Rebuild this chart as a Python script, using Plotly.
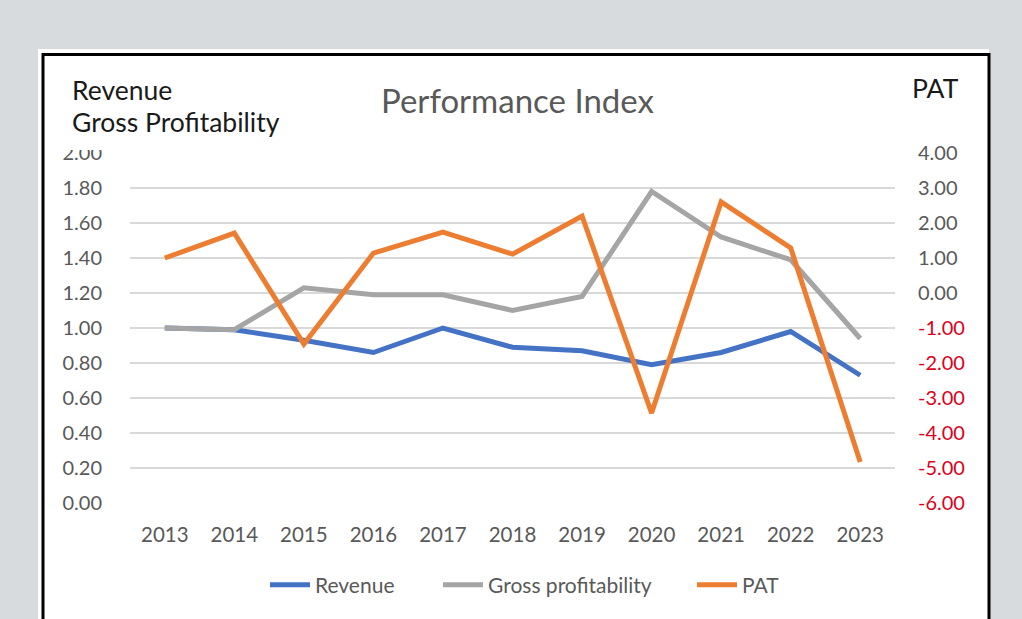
import plotly.graph_objects as go

years = ["2013", "2014", "2015", "2016", "2017", "2018", "2019", "2020", "2021", "2022", "2023"]
revenue = [1.00, 0.99, 0.93, 0.86, 1.00, 0.89, 0.87, 0.79, 0.86, 0.98, 0.73]
gross_profitability = [1.00, 0.99, 1.23, 1.19, 1.19, 1.10, 1.18, 1.78, 1.52, 1.39, 0.94]
pat = [1.00, 1.71, -1.46, 1.14, 1.74, 1.11, 2.20, -3.43, 2.60, 1.29, -4.83]

left_ticks = [0.0, 0.2, 0.4, 0.6, 0.8, 1.0, 1.2, 1.4, 1.6, 1.8, 2.0]
right_ticks = [-6, -5, -4, -3, -2, -1, 0, 1, 2, 3, 4]

W, H = 1022, 619
L, R, T, B = 130, 895, 153, 503

def px(x):
    return (x - L) / (R - L)

def py(y):
    return (B - y) / (B - T)

FONT = "Lato"
GREY_TXT = "#595959"
DARK_TXT = "#1A1A1A"
RED = "#E0001B"

right_text = []
for v in right_ticks:
    s = f"{v:.2f}"
    if v < 0:
        s = f"<span style='fill:{RED}'>{s}</span>"
    right_text.append(s)

fig = go.Figure()
fig.add_trace(go.Scatter(x=years, y=revenue, name="Revenue", mode="lines",
                         line=dict(color="#4472C4", width=5), yaxis="y", legend="legend"))
fig.add_trace(go.Scatter(x=years, y=gross_profitability, name="Gross profitability",
                         mode="lines", line=dict(color="#A5A5A5", width=5), yaxis="y",
                         legend="legend2"))
fig.add_trace(go.Scatter(x=years, y=pat, name="PAT", mode="lines",
                         line=dict(color="#ED7D31", width=5), yaxis="y2", legend="legend3"))

def leg(x_px):
    return dict(orientation="h", x=px(x_px), xanchor="left", y=py(585), yanchor="middle",
                font=dict(size=21, color=GREY_TXT), bgcolor="rgba(0,0,0,0)", itemwidth=40)

fig.update_layout(
    width=W, height=H,
    margin=dict(l=L, r=W - R, t=T, b=H - B, pad=0),
    paper_bgcolor="#D8DBDE",
    plot_bgcolor="white",
    font=dict(family=FONT, size=20, color=GREY_TXT),
    showlegend=True,
    legend=leg(265),
    legend2=leg(438),
    legend3=leg(692),
    xaxis=dict(type="category", range=[-0.5, 10.5], showgrid=False, zeroline=False,
               showline=False, ticks="", ticklabelstandoff=17,
               tickfont=dict(size=20.5, color=GREY_TXT)),
    yaxis=dict(range=[0, 2], tickvals=left_ticks, ticktext=[f"{v:.2f}" for v in left_ticks],
               showgrid=True, gridcolor="#D9D9D9", gridwidth=1.5, zeroline=False,
               showline=False, ticks="", ticklabelstandoff=27,
               tickfont=dict(size=20, color=GREY_TXT)),
    yaxis2=dict(range=[-6, 4], overlaying="y", side="right", tickvals=right_ticks,
                ticktext=right_text, showgrid=False, zeroline=False, showline=False,
                ticks="", ticklabelstandoff=22, tickfont=dict(size=20, color=GREY_TXT)),
    shapes=[
        dict(type="rect", xref="paper", yref="paper", x0=px(38), x1=px(989), y0=py(640), y1=py(49),
             fillcolor="white", line=dict(width=0), layer="below"),
        # white box of the axis-title text that hides part of the top tick label and gridline
        dict(type="rect", xref="paper", yref="paper", x0=px(55), x1=px(124), y0=py(150), y1=py(62),
             fillcolor="white", line=dict(width=0), layer="above"),
        dict(type="rect", xref="paper", yref="paper", x0=px(124), x1=px(379), y0=py(155), y1=py(62),
             fillcolor="white", line=dict(width=0), layer="above"),
        dict(type="rect", xref="paper", yref="paper", x0=px(43), x1=px(989), y0=py(660), y1=py(54.5),
             fillcolor="rgba(0,0,0,0)", line=dict(color="black", width=3), layer="above"),
    ],
    annotations=[
        dict(text="Performance Index", xref="paper", yref="paper", x=px(517.5), y=py(100),
             xanchor="center", yanchor="middle", showarrow=False,
             font=dict(family=FONT, size=33, color=GREY_TXT)),
        dict(text="Revenue", xref="paper", yref="paper",
             x=px(70), y=py(90), xanchor="left", yanchor="middle", showarrow=False,
             font=dict(family=FONT, size=26.5, color=DARK_TXT)),
        dict(text="Gross Profitability", xref="paper", yref="paper",
             x=px(70), y=py(122), xanchor="left", yanchor="middle", showarrow=False,
             font=dict(family=FONT, size=26.5, color=DARK_TXT)),
        dict(text="PAT", xref="paper", yref="paper", x=px(910), y=py(88),
             xanchor="left", yanchor="middle", showarrow=False,
             font=dict(family=FONT, size=26.5, color=DARK_TXT)),
    ],
)

fig.write_html("out.html", config={"displayModeBar": False},
               post_script="document.body.style.margin='0';")
